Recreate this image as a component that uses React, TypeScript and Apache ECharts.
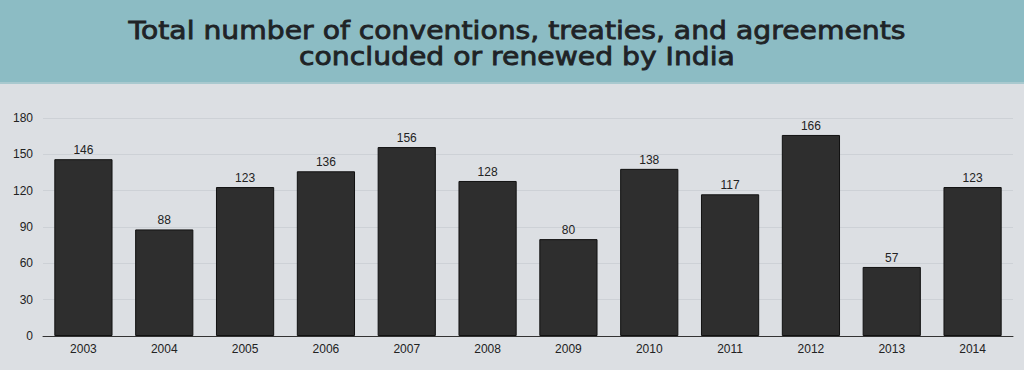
import React, { useEffect, useRef } from "react";
import * as echarts from "echarts";

const years = ["2003", "2004", "2005", "2006", "2007", "2008", "2009", "2010", "2011", "2012", "2013", "2014"];
const totals = [146, 88, 123, 136, 156, 128, 80, 138, 117, 166, 57, 123];
const titleLines = ["Total number of conventions, treaties, and agreements", "concluded or renewed by India"];

export default function App() {
  const ref = useRef<HTMLDivElement>(null);
  useEffect(() => {
    document.body.style.margin = "0";
    const chart = echarts.init(ref.current!, null, { renderer: "svg" });
    const titleStyle = (text: string) => ({
      text,
      fontFamily: "DejaVu Sans",
      fontSize: 25,
      fontWeight: "normal",
      fill: "#1f2326",
      stroke: "#1f2326",
      lineWidth: 0.8,
      align: "center",
      verticalAlign: "middle",
    });
    chart.setOption({
      animation: false,
      backgroundColor: "#dcdfe3",
      graphic: [
        { type: "rect", left: 0, top: 0, shape: { width: 1024, height: 82 }, style: { fill: "#8cbcc4" }, z: 0 },
        { type: "rect", left: 0, top: 82, shape: { width: 1024, height: 2 }, style: { fill: "#a9c9cf" }, z: 0 },
        { type: "text", x: 517, y: 30, scaleX: 1.13, style: titleStyle(titleLines[0]), z: 2 },
        { type: "text", x: 517, y: 56, scaleX: 1.13, style: titleStyle(titleLines[1]), z: 2 },
      ],
      grid: { left: 43, right: 11, top: 118, bottom: 34, containLabel: false },
      xAxis: {
        type: "category",
        data: years,
        axisLine: { lineStyle: { color: "#333", width: 1 } },
        axisTick: { show: false },
        axisLabel: { color: "#222", fontSize: 12, fontFamily: "Liberation Sans, Arial", margin: 7 },
      },
      yAxis: {
        type: "value",
        min: 0,
        max: 180,
        interval: 30,
        axisLine: { show: false },
        axisTick: { show: false },
        splitLine: { lineStyle: { color: "#cdd1d6", width: 1 } },
        axisLabel: { color: "#222", fontSize: 12, fontFamily: "Liberation Sans, Arial", margin: 10 },
      },
      series: [
        {
          type: "bar",
          data: totals,
          barCategoryGap: "28%",
          itemStyle: { color: "#2e2e2e", borderColor: "#111", borderWidth: 1 },
          label: {
            show: true,
            position: "top",
            distance: 3,
            color: "#222",
            fontSize: 12,
            fontFamily: "Liberation Sans, Arial",
          },
        },
      ],
    });
    return () => chart.dispose();
  }, []);
  return <div ref={ref} style={{ width: 1024, height: 370 }} />;
}
